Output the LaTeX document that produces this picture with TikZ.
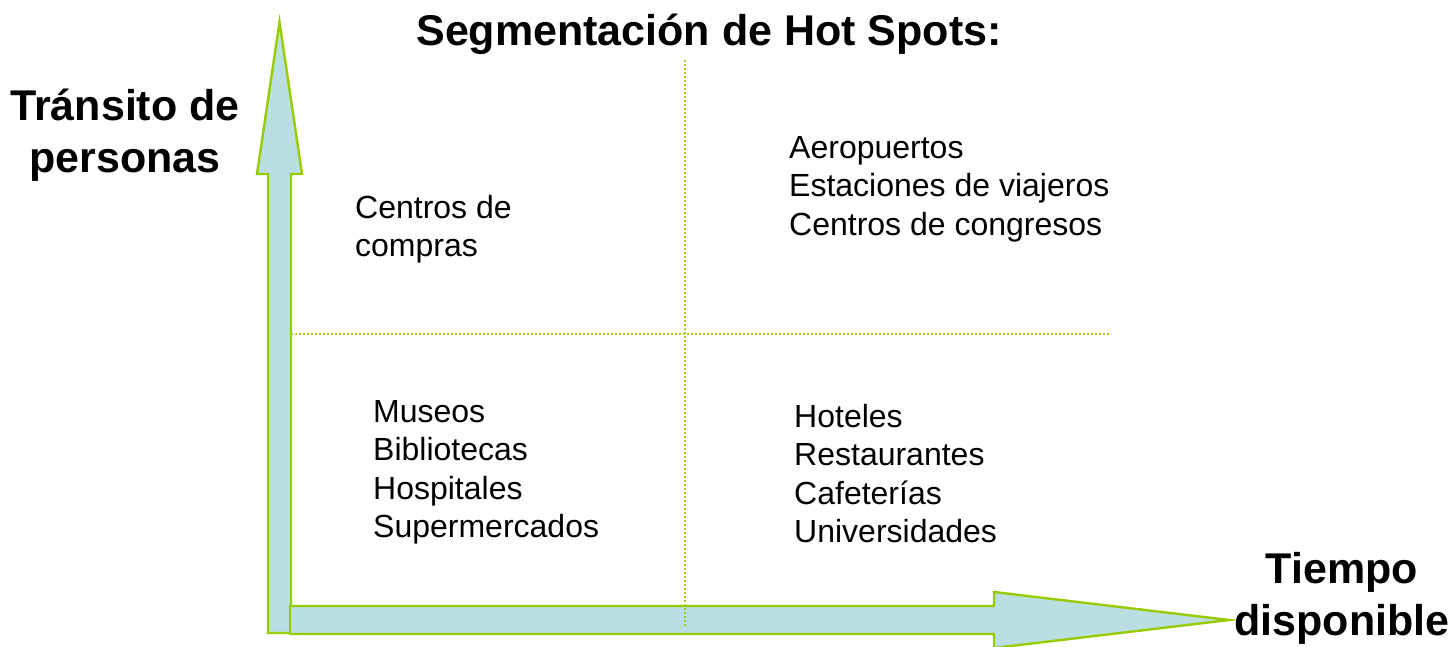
\documentclass[tikz,border=0pt]{standalone}
\usepackage{fontspec}
\setmainfont{Liberation Sans}
\definecolor{arrowline}{HTML}{99CC00}
\definecolor{arrowfill}{HTML}{BADFE3}
\definecolor{gridline}{HTML}{A3D21C}
\begin{document}
\begin{tikzpicture}[x=1pt,y=-1pt,
  axisarrow/.style={draw=arrowline,fill=arrowfill,line width=2.4pt,line join=miter},
  grid/.style={draw=gridline,line width=1.8pt,dash pattern=on 1.8pt off 2.2pt},
  item/.style={anchor=base west,align=left,inner sep=0pt,font=\fontsize{32}{38.5}\selectfont},
  axislabel/.style={anchor=base,align=center,inner sep=0pt,font=\fontsize{43}{52.5}\selectfont\bfseries},
  title/.style={anchor=base,inner sep=0pt,font=\fontsize{43}{52}\selectfont\bfseries}]
\useasboundingbox (0,0) rectangle (1453,646);
% vertical axis arrow
\draw[axisarrow] (268,633) -- (268,174) -- (257,174) -- (279.5,22) -- (302,174) -- (291,174) -- (291,633) -- cycle;
% horizontal axis arrow
\draw[axisarrow] (290,606) -- (994,606) -- (994,592) -- (1229,620) -- (994,648) -- (994,634) -- (290,634) -- cycle;
% quadrant lines
\coordinate (vtop) at (685,60);
\coordinate (vbot) at (685,626);
\coordinate (hleft) at (291,334);
\coordinate (hright) at (1110,334);
\draw[grid] (vtop) -- (vbot);
\draw[grid] (hleft) -- (hright);
% labels (base anchor = baseline of last line)
\node[title] (title) at (709,45) {Segmentación de Hot Spots:};
\node[axislabel] (ylabel) at (125,172.5) {Tránsito de\\personas};
\node[axislabel] (xlabel) at (1342,635.5) {Tiempo\\disponible};
\node[item] (q1) at (355,256.5) {Centros de\\compras};
\node[item] (q2) at (789,235) {Aeropuertos\\Estaciones de viajeros\\Centros de congresos};
\node[item] (q3) at (373,537.5) {Museos\\Bibliotecas\\Hospitales\\Supermercados};
\node[item] (q4) at (794,542.5) {Hoteles\\Restaurantes\\Cafeterías\\Universidades};
\end{tikzpicture}
\end{document}
